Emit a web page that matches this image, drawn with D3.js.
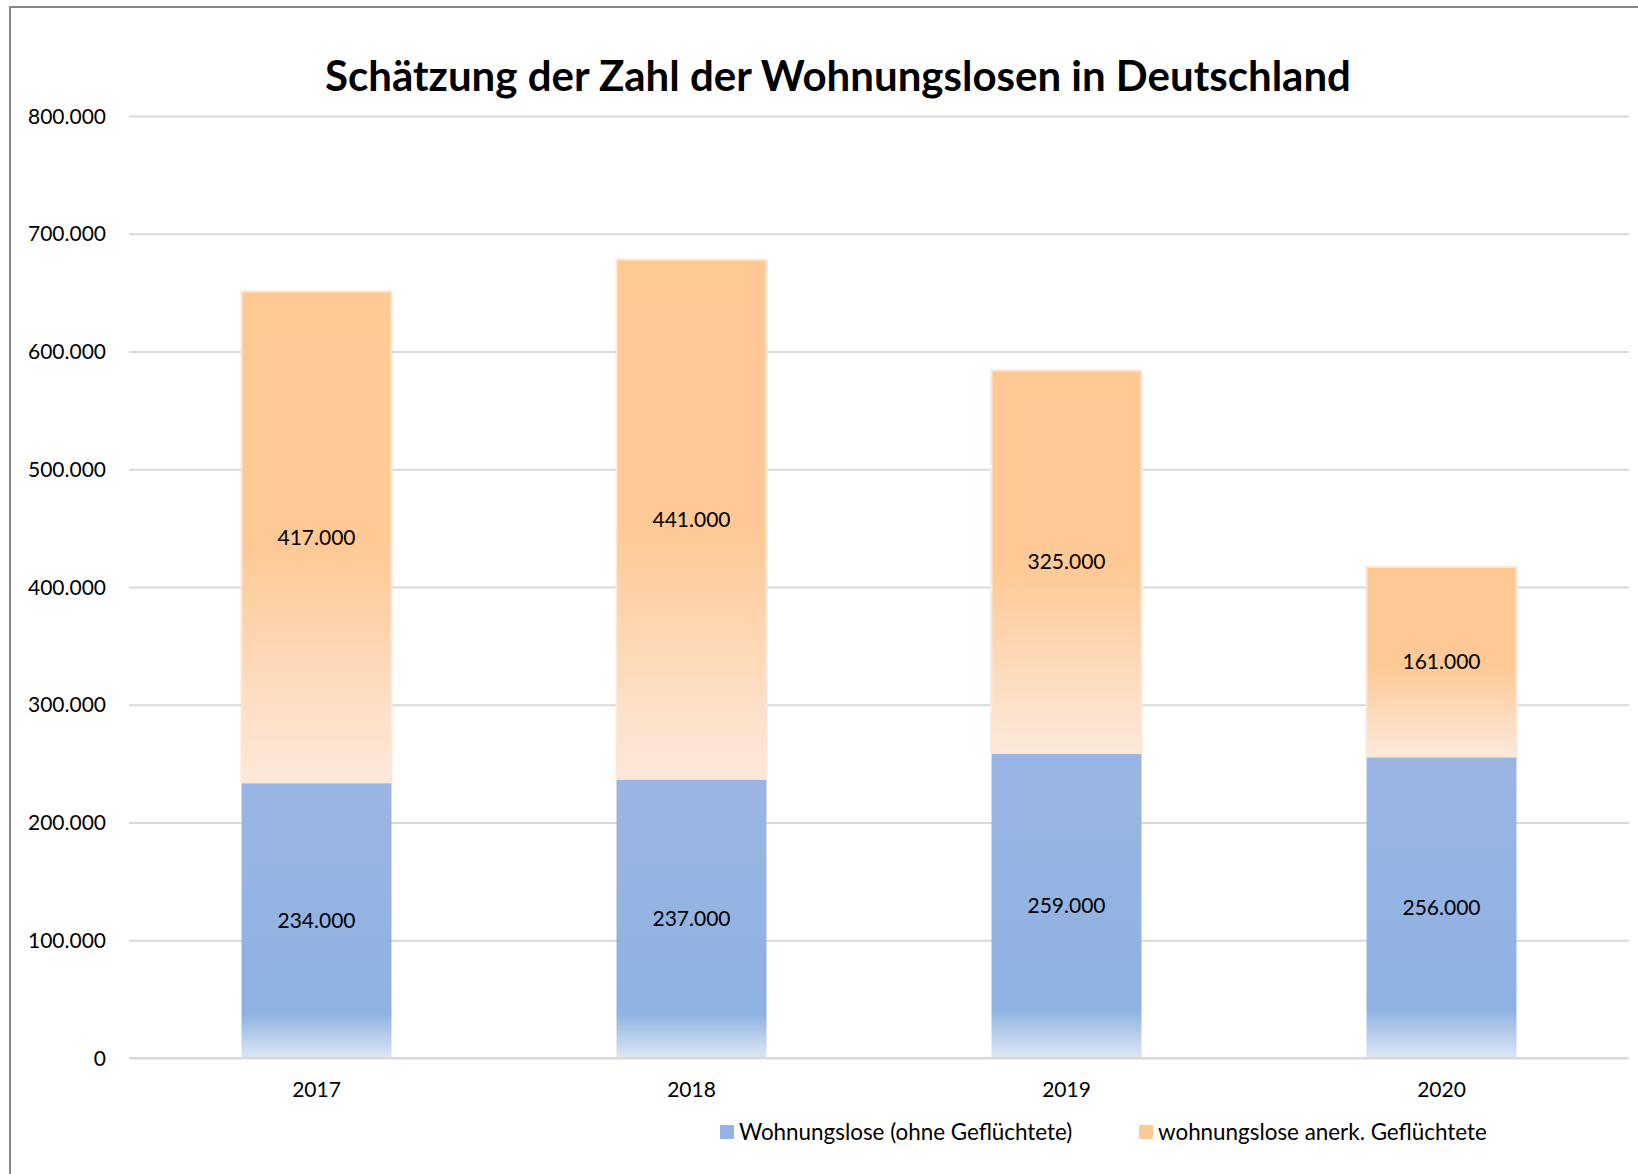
<!DOCTYPE html>
<html>
<head>
<meta charset="utf-8">
<script src="https://cdn.jsdelivr.net/npm/d3@7"></script>
<style>
    body { margin: 0; background: #fff; }
    svg { display: block; font-family: Lato, 'Open Sans', sans-serif; }
    .grid line { stroke: #d9d9d9; stroke-width: 2px; }
    .grid .domain { display: none; }
    .y-labels text, .x-labels text, .bar-label, .legend text { fill: #000; }
</style>
</head>
<body>
<svg id="chart" width="1638" height="1174"></svg>
<script>
// data
const years = ['2017', '2018', '2019', '2020'];
const ohneGefluechtete = [234000, 237000, 259000, 256000];
const anerkGefluechtete = [417000, 441000, 325000, 161000];
const yTicks = [0, 100000, 200000, 300000, 400000, 500000, 600000, 700000, 800000];
const seriesNames = ['Wohnungslose (ohne Geflüchtete)', 'wohnungslose anerk. Geflüchtete'];
const chartTitle = 'Schätzung der Zahl der Wohnungslosen in Deutschland';

const svg = d3.select('#chart');
const margin = {top: 116, left: 129, right: 9, bottom: 116};
const width = 1638 - margin.left - margin.right;
const height = 1058 - margin.top;

// German number format: 234.000
const fmt = d3.formatLocale({decimal: ',', thousands: '.', grouping: [3], currency: ['', '€']}).format(',');

// outer frame (cut off on the right and bottom like the original)
svg.append('rect')
    .attr('x', 10).attr('y', 7)
    .attr('width', 1700).attr('height', 1300)
    .attr('fill', 'none')
    .attr('stroke', '#878787')
    .attr('stroke-width', 2);

// gradients
const defs = svg.append('defs');
const gBlue = defs.append('linearGradient')
    .attr('id', 'grad-blue')
    .attr('x1', 0).attr('y1', 0).attr('x2', 0).attr('y2', 1);
gBlue.append('stop').attr('offset', '0%').attr('stop-color', '#9bb5e3');
gBlue.append('stop').attr('offset', '84%').attr('stop-color', '#8eb2e2');
gBlue.append('stop').attr('offset', '100%').attr('stop-color', '#dde7f5');

const gOrange = defs.append('linearGradient')
    .attr('id', 'grad-orange')
    .attr('x1', 0).attr('y1', 0).attr('x2', 0).attr('y2', 1);
gOrange.append('stop').attr('offset', '0%').attr('stop-color', '#ffc994');
gOrange.append('stop').attr('offset', '52%').attr('stop-color', '#fec995');
gOrange.append('stop').attr('offset', '100%').attr('stop-color', '#fce9db');

const g = svg.append('g')
    .attr('transform', `translate(${margin.left},${margin.top})`);

// scales
const x = d3.scaleBand()
    .domain(years)
    .range([0, width])
    .paddingInner(0.6)
    .paddingOuter(0.3);
const y = d3.scaleLinear()
    .domain([0, 800000])
    .range([height, 0]);

// gridlines
g.append('g')
    .attr('class', 'grid')
    .call(d3.axisLeft(y).tickValues(yTicks).tickSize(-width).tickFormat(''));

// y labels
g.append('g')
    .attr('class', 'y-labels')
    .selectAll('text')
    .data(yTicks)
    .join('text')
    .attr('x', -23)
    .attr('y', d => y(d))
    .attr('dy', '0.36em')
    .attr('text-anchor', 'end')
    .style('font-size', '21px')
    .text(d => fmt(d));

// stacked data
const rows = years.map((yr, i) => ({year: yr, a: ohneGefluechtete[i], b: anerkGefluechtete[i]}));
const stacked = d3.stack().keys(['a', 'b'])(rows);
const fills = ['url(#grad-blue)', 'url(#grad-orange)'];
const strokes = ['none', '#fde6d4'];

const layers = g.selectAll('.layer')
    .data(stacked)
    .join('g')
    .attr('class', 'layer');

layers.each(function (layer, li) {
    const sel = d3.select(this);
    sel.selectAll('rect')
        .data(layer)
        .join('rect')
        .attr('x', d => x(d.data.year))
        .attr('y', d => y(d[1]))
        .attr('width', x.bandwidth())
        .attr('height', d => y(d[0]) - y(d[1]))
        .attr('fill', fills[li])
        .attr('stroke', strokes[li])
        .attr('stroke-width', 2);

    sel.selectAll('text')
        .data(layer)
        .join('text')
        .attr('class', 'bar-label')
        .attr('x', d => x(d.data.year) + x.bandwidth() / 2)
        .attr('y', d => (y(d[0]) + y(d[1])) / 2)
        .attr('dy', '0.36em')
        .attr('text-anchor', 'middle')
        .style('font-size', '21px')
        .text(d => fmt(d[1] - d[0]));
});

// baseline
g.append('line')
    .attr('x1', 0).attr('x2', width)
    .attr('y1', y(0)).attr('y2', y(0))
    .attr('stroke', '#d9d9d9')
    .attr('stroke-width', 2);

// x labels
g.append('g')
    .attr('class', 'x-labels')
    .selectAll('text')
    .data(years)
    .join('text')
    .attr('x', d => x(d) + x.bandwidth() / 2)
    .attr('y', height + 31)
    .attr('dy', '0.36em')
    .attr('text-anchor', 'middle')
    .style('font-size', '21px')
    .text(d => d);

// title
svg.append('text')
    .attr('x', 838)
    .attr('y', 91)
    .attr('text-anchor', 'middle')
    .style('font-size', '42px')
    .style('font-weight', 'bold')
    .text(chartTitle);

// legend
const legendColors = ['#94b3e2', '#fec994'];
const legendX = [720, 1139];
const legend = svg.append('g').attr('class', 'legend');
seriesNames.forEach((name, i) => {
    legend.append('rect')
        .attr('x', legendX[i]).attr('y', 1125)
        .attr('width', 14).attr('height', 14)
        .attr('fill', legendColors[i]);
    legend.append('text')
        .attr('x', legendX[i] + 19)
        .attr('y', 1132)
        .attr('dy', '0.36em')
        .style('font-size', '22.4px')
        .text(name);
});
</script>
</body>
</html>
